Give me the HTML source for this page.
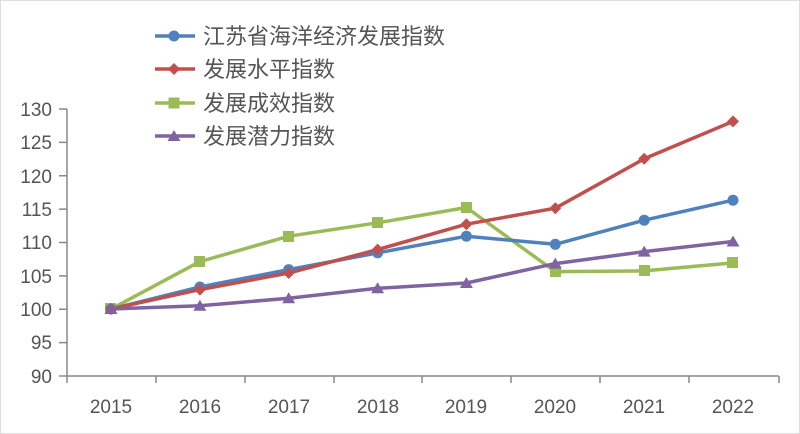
<!DOCTYPE html><html><head><meta charset="utf-8"><style>body{margin:0;background:#fff}svg{display:block}text{font-family:"Liberation Sans","Noto Sans CJK SC",sans-serif;fill:#555}</style></head><body>
<svg width="800" height="434" viewBox="0 0 800 434">
<rect x="0.5" y="0.5" width="799" height="433" fill="#fff" stroke="#ddd"/>
<g stroke="#888" stroke-width="1.5" fill="none">
<path d="M67 109V376H779"/>
<path d="M59 109H67M59 142.4H67M59 175.7H67M59 209.1H67M59 242.5H67M59 275.9H67M59 309.3H67M59 342.6H67M59 376H67"/>
<path d="M67 376v7M156 376v7M245 376v7M334 376v7M422 376v7M511 376v7M600 376v7M689 376v7M779 376v7"/>
</g>
<g font-size="19" text-anchor="end">
<text x="52" y="116">130</text><text x="52" y="149">125</text><text x="52" y="183">120</text><text x="52" y="216">115</text><text x="52" y="249">110</text><text x="52" y="283">105</text><text x="52" y="316">100</text><text x="52" y="349">95</text><text x="52" y="383">90</text>
</g>
<g font-size="19" text-anchor="middle">
<text x="111" y="413">2015</text><text x="200" y="413">2016</text><text x="289" y="413">2017</text><text x="378" y="413">2018</text><text x="466" y="413">2019</text><text x="555" y="413">2020</text><text x="644" y="413">2021</text><text x="733" y="413">2022</text>
</g>
<g fill="none" stroke-width="3.5" stroke-linejoin="round">
<polyline stroke="#9bbb59" points="111,309 199.9,261.6 288.7,236.2 377.6,222.8 466.4,207.5 555.3,271.6 644.2,270.9 733,262.9"/>
<polyline stroke="#4f81bd" points="111,309 199.9,287 288.7,269.6 377.6,252.9 466.4,236.2 555.3,244.3 644.2,220.2 733,200.2"/>
<polyline stroke="#c0504d" points="111,309 199.9,289.6 288.7,273 377.6,249.6 466.4,224.2 555.3,208.2 644.2,158.8 733,121.4"/>
<polyline stroke="#8064a2" points="111,309 199.9,305.7 288.7,298.3 377.6,288.3 466.4,283 555.3,263.6 644.2,251.6 733,241.5"/>
</g>
<g fill="#9bbb59"><rect x="105" y="303" width="11" height="11"/><rect x="194" y="256" width="11" height="11"/><rect x="283" y="231" width="11" height="11"/><rect x="372" y="217" width="11" height="11"/><rect x="461" y="202" width="11" height="11"/><rect x="550" y="266" width="11" height="11"/><rect x="639" y="265" width="11" height="11"/><rect x="727" y="257" width="11" height="11"/></g>
<g fill="#4f81bd"><circle cx="111" cy="309" r="5.5"/><circle cx="199.9" cy="287" r="5.5"/><circle cx="288.7" cy="269.6" r="5.5"/><circle cx="377.6" cy="252.9" r="5.5"/><circle cx="466.4" cy="236.2" r="5.5"/><circle cx="555.3" cy="244.3" r="5.5"/><circle cx="644.2" cy="220.2" r="5.5"/><circle cx="733" cy="200.2" r="5.5"/></g>
<g fill="#c0504d"><path d="M111 303l6 6-6 6-6-6zM199.9 283.6l6 6-6 6-6-6zM288.7 267l6 6-6 6-6-6zM377.6 243.6l6 6-6 6-6-6zM466.4 218.2l6 6-6 6-6-6zM555.3 202.2l6 6-6 6-6-6zM644.2 152.8l6 6-6 6-6-6zM733 115.4l6 6-6 6-6-6z"/></g>
<g fill="#8064a2"><path d="M111 303l6.5 11h-13zM199.9 299.7l6.5 11h-13zM288.7 292.3l6.5 11h-13zM377.6 282.3l6.5 11h-13zM466.4 277l6.5 11h-13zM555.3 257.6l6.5 11h-13zM644.2 245.6l6.5 11h-13zM733 235.5l6.5 11h-13z"/></g>
<g stroke-width="3.5">
<line x1="155" y1="36" x2="195" y2="36" stroke="#4f81bd"/><circle cx="174" cy="36" r="5.5" fill="#4f81bd"/>
<line x1="155" y1="69" x2="195" y2="69" stroke="#c0504d"/><path d="M174 63l6 6-6 6-6-6z" fill="#c0504d" stroke="none"/>
<line x1="155" y1="103" x2="195" y2="103" stroke="#9bbb59"/><rect x="168.5" y="97.5" width="11" height="11" fill="#9bbb59" stroke="none"/>
<line x1="155" y1="136" x2="195" y2="136" stroke="#8064a2"/><path d="M174 130l6.5 11h-13z" fill="#8064a2" stroke="none"/>
</g>
<g font-size="22">
<text x="203" y="44">江苏省海洋经济发展指数</text>
<text x="203" y="77">发展水平指数</text>
<text x="203" y="111">发展成效指数</text>
<text x="203" y="144">发展潜力指数</text>
</g>
</svg></body></html>
